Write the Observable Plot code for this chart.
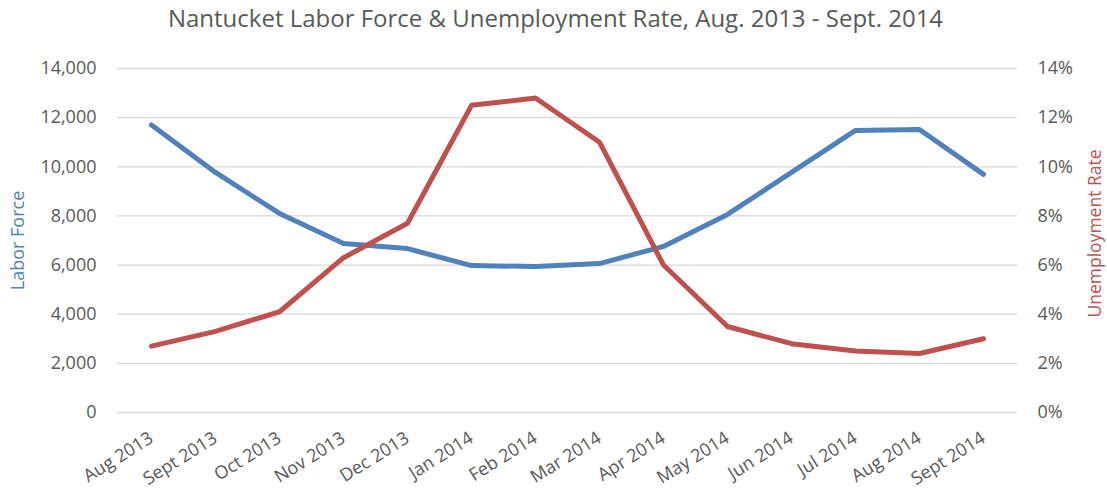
<!DOCTYPE html>
<html>
<head>
<meta charset="utf-8">
<script src="https://cdn.jsdelivr.net/npm/d3@7"></script>
<script src="https://cdn.jsdelivr.net/npm/@observablehq/plot@0.6"></script>
<style>
  html, body { margin: 0; padding: 0; background: #fff; }
  #chart svg { display: block; overflow: visible; }
</style>
</head>
<body>
<div id="chart"></div>
<script>
const months = ["Aug 2013","Sept 2013","Oct 2013","Nov 2013","Dec 2013","Jan 2014","Feb 2014","Mar 2014","Apr 2014","May 2014","Jun 2014","Jul 2014","Aug 2014","Sept 2014"];
const laborForce = [11700, 9770, 8100, 6880, 6670, 5980, 5940, 6060, 6760, 8060, 9770, 11480, 11520, 9690];
const unemploymentRate = [2.7, 3.3, 4.1, 6.3, 7.7, 12.5, 12.8, 11.0, 6.0, 3.5, 2.8, 2.5, 2.4, 3.0];
const leftTicks = [0, 2000, 4000, 6000, 8000, 10000, 12000, 14000];
const rightTicks = [0, 2, 4, 6, 8, 10, 12, 14];
const title = "Nantucket Labor Force & Unemployment Rate, Aug. 2013 - Sept. 2014";

// Rate is drawn on the shared y scale: 1% <-> 1,000 (14% tops out at 14,000)
const ratio = 1000;
const lf = months.map((m, i) => ({month: m, value: laborForce[i]}));
const ur = months.map((m, i) => ({month: m, value: unemploymentRate[i] * ratio}));

const blue = "#4f81bd", red = "#c0504d", gray = "#595959";
const font = "'Open Sans', sans-serif";

const chart = Plot.plot({
  width: 1107,
  height: 490,
  marginLeft: 117,
  marginRight: 90,
  marginTop: 68,
  marginBottom: 78,
  style: {fontFamily: font, fontSize: "18px", color: gray, background: "#fff", overflow: "visible"},
  x: {type: "point", domain: months, padding: 0.5},
  y: {domain: [0, 14000]},
  marks: [
    Plot.gridY(leftTicks, {stroke: "#d9d9d9", strokeOpacity: 1, strokeWidth: 1.3}),
    Plot.axisY(leftTicks, {anchor: "left", tickSize: 0, tickPadding: 21, tickFormat: d3.format(","), label: null, fill: gray, fontSize: 18}),
    Plot.axisY(rightTicks.map(d => d * ratio), {anchor: "right", tickSize: 0, tickPadding: 20, tickFormat: d => (d / ratio) + "%", label: null, fill: gray, fontSize: 18}),
    Plot.axisX({tickSize: 0, tickPadding: 24, tickRotate: -32, textAnchor: "end", label: null, fill: gray, fontSize: 18}),
    Plot.line(lf, {x: "month", y: "value", stroke: blue, strokeWidth: 5, strokeLinecap: "round", strokeLinejoin: "round"}),
    Plot.line(ur, {x: "month", y: "value", stroke: red, strokeWidth: 5, strokeLinecap: "round", strokeLinejoin: "round"}),
    Plot.text([title], {frameAnchor: "top", dx: -12, dy: -59, fontSize: 24, fill: gray}),
    Plot.text(["Labor Force"], {frameAnchor: "left", dx: -99, rotate: -90, textAnchor: "middle", fontSize: 18, fill: blue}),
    Plot.text(["Unemployment Rate"], {frameAnchor: "right", dx: 78, dy: -7, rotate: -90, textAnchor: "middle", fontSize: 17.5, fill: red})
  ]
});
document.getElementById("chart").appendChild(chart);
</script>
</body>
</html>
